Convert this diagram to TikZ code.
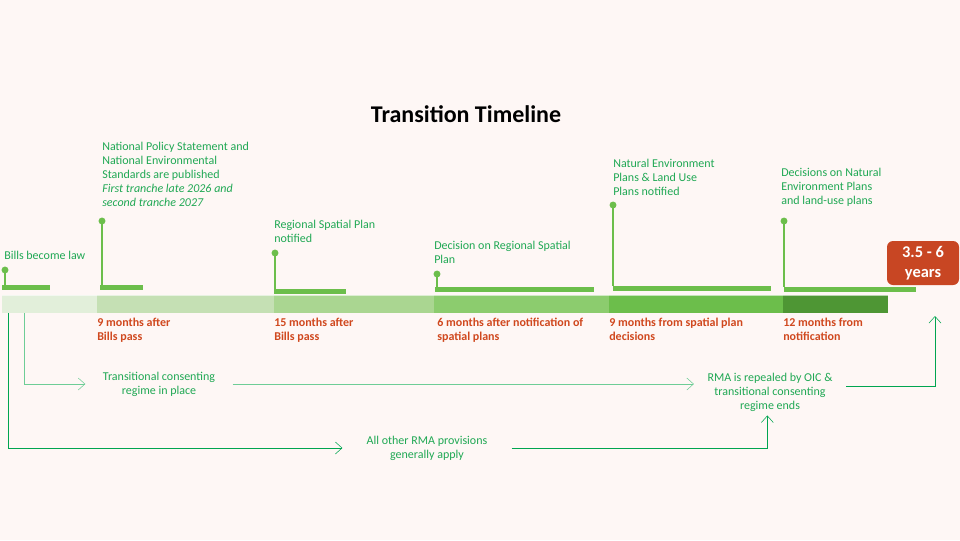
\documentclass[tikz,border=0pt]{standalone}
\usepackage{fontspec}
\setmainfont{Carlito}
\usetikzlibrary{arrows.meta,positioning}
\definecolor{bgpink}{RGB}{254,247,245}
\definecolor{labelgreen}{RGB}{32,168,84}
\definecolor{pingreen}{RGB}{108,190,75}
\definecolor{monthred}{RGB}{208,72,30}
\definecolor{boxred}{RGB}{200,70,35}
\definecolor{flowlight}{RGB}{110,205,150}
\definecolor{flowdark}{RGB}{0,165,80}
\definecolor{barA}{RGB}{226,239,218}
\definecolor{barB}{RGB}{197,224,180}
\definecolor{barC}{RGB}{170,214,145}
\definecolor{barD}{RGB}{140,204,110}
\definecolor{barE}{RGB}{108,190,75}
\definecolor{barF}{RGB}{78,150,52}
\tikzset{
    event label/.style={
        anchor=north west,inner sep=0pt,
        align=left,text=labelgreen,
        font=\fontsize{9}{10.5}\selectfont
    },
    month label/.style={
        event label,text=monthred,
        font=\fontsize{9}{10.5}\selectfont\bfseries
    },
    flow label/.style={
        inner xsep=13pt,inner ysep=3pt,
        align=center,text=labelgreen,
        font=\fontsize{9}{10.5}\selectfont
    },
    >={Straight Barb[length=5pt,width=9pt]}
}

\begin{document}
\begin{tikzpicture}[x=0.75pt,y=-0.75pt]
\fill[bgpink] (0,0) rectangle (960,540);
\useasboundingbox (0,0) rectangle (960,540);
\node[font=\fontsize{18}{20}\selectfont\bfseries] (title) at (466,114) {Transition Timeline};
% timeline bar
\foreach \i/\a/\b/\col in {1/2/97/barA,2/97/274/barB,3/274/434/barC,4/434/609/barD,5/609/783/barE,6/783/888/barF}
    \fill[\col] (\a,295) rectangle (\b,313);
\draw[white,opacity=.6,line width=.75pt] (2,295) -- (888,295);
% small bars and pins
\foreach \i/\a/\b/\y in {1/2/50/285,2/100/143/285,3/274/346/289,4/435/594/287,5/613/771/286,6/784/916/287}
    \fill[pingreen] (\a,\y) rectangle (\b,{\y+5});
\foreach \i/\x/\top/\bot in {1/5/270/285,2/102/221/285,3/275/253/289,4/437/274/287,5/613/205/286,6/784/221/287}{
    \draw[pingreen,line width=1.1pt] (\x,\top) -- (\x,\bot);
    \fill[pingreen] (\x,\top) circle (2.6pt);
}
% events
\node[event label] (law) at (4,251) {Bills become law};
\node[event label] (nps) at (102,142) {National Policy Statement and\\National Environmental\\Standards are published\\\textit{First tranche late 2026 and}\\\textit{second tranche 2027}};
\node[event label] (rsp) at (274,220) {Regional Spatial Plan\\notified};
\node[event label] (drsp) at (434,241) {Decision on Regional Spatial\\Plan};
\node[event label] (nep) at (613,159) {Natural Environment\\Plans \& Land Use\\Plans notified};
\node[event label] (dnep) at (781,168) {Decisions on Natural\\Environment Plans\\and land-use plans};
% durations
\node[month label] (m_1) at (97,318) {9 months after\\Bills pass};
\node[month label] (m_2) at (274,318) {15 months after\\Bills pass};
\node[month label] (m_3) at (437,318) {6 months after notification of\\spatial plans};
\node[month label] (m_4) at (609,318) {9 months from spatial plan\\decisions};
\node[month label] (m_5) at (783,318) {12 months from\\notification};
\node[fill=boxred,text=white,rounded corners=4.5pt,minimum width=54pt,minimum height=33pt,
    align=center,font=\fontsize{12.3}{15}\selectfont\bfseries] (years) at (923,263) {3.5 - 6\\years};
% regimes
\node[flow label] (trans) at (159,384) {Transitional consenting\\regime in place};
\node[flow label,inner xsep=18pt] (apply) at (427,448) {All other RMA provisions\\generally apply};
\node[flow label,inner xsep=10pt] (rma) at (770,392) {RMA is repealed by OIC \&\\transitional consenting\\regime ends};
\coordinate (law_a) at (8,313);
\coordinate (law_b) at (24,313);
\coordinate (years_in) at (935,316);
\draw[flowlight,->] (law_b) |- (trans.west);
\draw[flowlight,->] (trans.east) -- (trans.east -| rma.west);
\draw[flowdark,->] (law_a) |- (apply.west);
\draw[flowdark,->] (apply.east) -| ([xshift=-2pt]rma.south);
\draw[flowdark,->] ([yshift=4.5pt]rma.east) -| (years_in);
\end{tikzpicture}
\end{document}
